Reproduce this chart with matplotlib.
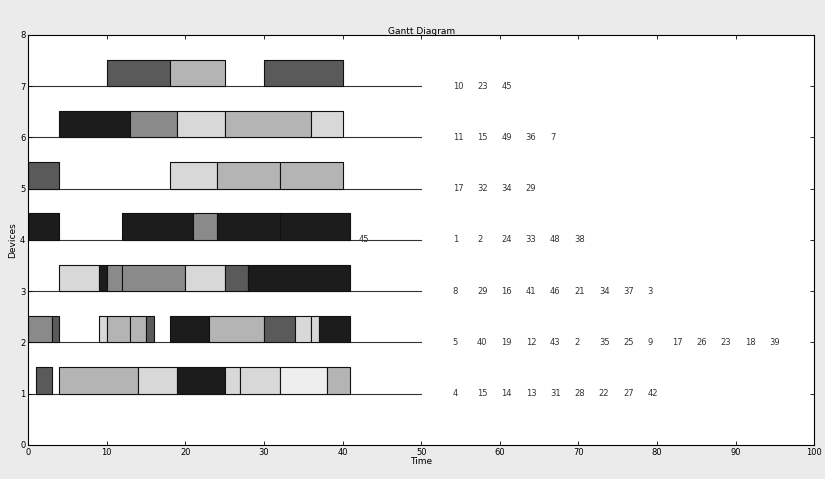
import matplotlib
matplotlib.use('Agg')
import matplotlib.pyplot as plt

# start / end times of the operations on each device
starts = {
    1: [1, 4, 14, 19, 25, 27, 32, 38],
    2: [0, 3, 9, 10, 13, 15, 18, 23, 30, 34, 36, 37],
    3: [4, 9, 10, 12, 20, 25, 28],
    4: [0, 12, 21, 24, 32],
    5: [0, 18, 24, 32],
    6: [4, 13, 19, 25, 36],
    7: [10, 18, 30],
}
ends = {
    1: [3, 14, 19, 25, 27, 32, 38, 41],
    2: [3, 4, 10, 13, 15, 16, 23, 30, 34, 36, 37, 41],
    3: [9, 10, 12, 20, 25, 28, 41],
    4: [4, 21, 24, 32, 41],
    5: [4, 24, 32, 40],
    6: [13, 19, 25, 36, 40],
    7: [18, 25, 40],
}
# job sequence printed to the right of each device
jobs = {
    1: [4, 15, 14, 13, 31, 28, 22, 27, 42],
    2: [5, 40, 19, 12, 43, 2, 35, 25, 9, 17, 26, 23, 18, 39],
    3: [8, 29, 16, 41, 46, 21, 34, 37, 3],
    4: [1, 2, 24, 33, 48, 38],
    5: [17, 32, 34, 29],
    6: [11, 15, 49, 36, 7],
    7: [10, 23, 45],
}

# grey level of each bar (scanned print, everything is grey)
G = {'k': '#1c1c1c', 'd': '#5a5a5a', 'm': '#8a8a8a', 'l': '#b4b4b4',
     'v': '#d8d8d8', 'w': '#eeeeee'}
shades = {
    1: 'dlvkvvwl',
    2: 'mdvlldkldvvk',
    3: 'vkmmvdk',
    4: 'kkmkk',
    5: 'dvll',
    6: 'kmvlv',
    7: 'dld',
}

fig = plt.figure(figsize=(8.25, 4.79), dpi=100, facecolor='#ebebeb')
ax = fig.add_axes([0.034, 0.071, 0.953, 0.856])
ax.set_facecolor('white')

for dev in range(1, 8):
    ax.plot([0, 50], [dev, dev], color='#333333', lw=0.8, zorder=1)
    segs = [(s, e - s) for s, e in zip(starts[dev], ends[dev])]
    cols = [G[c] for c in shades[dev]]
    ax.broken_barh(segs, (dev, 0.52), facecolors=cols,
                   edgecolor='#111111', linewidth=0.8, zorder=2)
    for i, j in enumerate(jobs[dev]):
        ax.text(54 + 3.1 * i, dev, str(j), fontsize=6, va='center',
                ha='left', color='#333333')

ax.text(42, 4, '45', fontsize=6, va='center', ha='left', color='#333333')

ax.set_xlim(0, 100)
ax.set_ylim(0, 8)
ax.set_xticks(range(0, 101, 10))
ax.set_yticks(range(0, 9))
ax.tick_params(direction='in', top=True, right=True, labelsize=6,
               length=3, width=0.6, pad=2)
for sp in ax.spines.values():
    sp.set_linewidth(0.8)
ax.set_title('Gantt Diagram', fontsize=6.5, pad=1)
ax.set_xlabel('Time', fontsize=6.5, labelpad=0)
ax.set_ylabel('Devices', fontsize=6.5, labelpad=2)

fig.savefig('out.png', dpi=100, facecolor=fig.get_facecolor())
